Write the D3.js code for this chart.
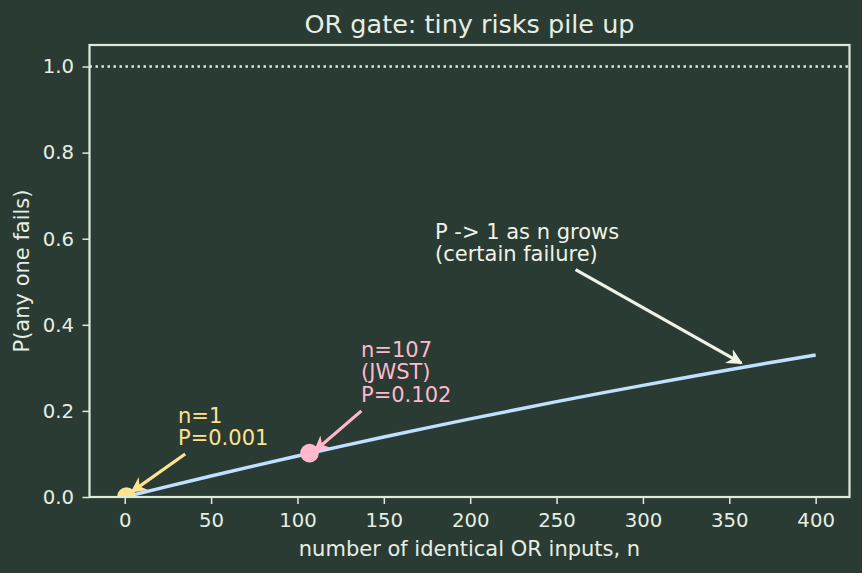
<!DOCTYPE html>
<html><head><meta charset="utf-8">
<script src="https://cdn.jsdelivr.net/npm/d3@7"></script>
<style>body{margin:0;background:#2a3b33;}svg{display:block;font-family:"DejaVu Sans",sans-serif;}</style>
</head><body><svg id="c" width="862" height="573"></svg>
<script>
const nValues = [0,25,50,75,100,125,150,175,200,225,250,275,300,325,350,375,400];
const pValues = [0,0.0247,0.0488,0.0723,0.0952,0.1176,0.1393,0.1606,0.1814,0.2016,0.2214,0.2406,0.2594,0.2777,0.2956,0.3130,0.3299];
const highlightN = [1,107];
const highlightP = [0.001,0.102];
const highlightLabels = [["n=1","P=0.001"],["n=107","(JWST)","P=0.102"]];
const xTicks = [0,50,100,150,200,250,300,350,400];
const yTicks = [0.0,0.2,0.4,0.6,0.8,1.0];

const bg="#2a3b33", fg="#e6eee4", lineCol="#bfe0ff", yel="#fde38f", pink="#ffb8cc", spine="#dfeadb";
const svg=d3.select("#c");
svg.append("rect").attr("width",862).attr("height",573).attr("fill",bg);
const L=89.5,R=849.5,T=45,B=497;
const x=d3.scaleLinear().domain([-20.4,419.6]).range([L,R]);
const y=d3.scaleLinear().domain([0,1.05]).range([B,T]);

const defs=svg.append("defs");
defs.append("clipPath").attr("id","clip").append("rect").attr("x",L).attr("y",T).attr("width",R-L).attr("height",B-T);
function marker(id,col){
  defs.append("marker").attr("id",id).attr("viewBox","0 -5 10 10").attr("refX",9).attr("refY",0)
   .attr("markerWidth",5).attr("markerHeight",5).attr("markerUnits","strokeWidth").attr("orient","auto")
   .append("path").attr("d","M0,-5L10,0L0,5L3,0Z").attr("fill",col);
}
marker("mY",yel);marker("mP",pink);marker("mW","#eef3e6");

const plot=svg.append("g").attr("clip-path","url(#clip)");
plot.append("line").attr("x1",L).attr("x2",R).attr("y1",y(1)).attr("y2",y(1))
  .attr("stroke",fg).attr("stroke-width",2.4).attr("stroke-dasharray","2.4,3.6");
plot.append("path").datum(nValues.map((n,i)=>[n,pValues[i]]))
  .attr("d",d3.line().x(d=>x(d[0])).y(d=>y(d[1])))
  .attr("fill","none").attr("stroke",lineCol).attr("stroke-width",3.4);
const cols=[yel,pink];
plot.selectAll("circle.h").data(highlightN).enter().append("circle")
  .attr("cx",(d)=>x(d)).attr("cy",(d,i)=>y(highlightP[i])).attr("r",9.3).attr("fill",(d,i)=>cols[i]);

const gx=svg.append("g").attr("transform",`translate(0,${B})`).call(d3.axisBottom(x).tickValues(xTicks).tickSize(7).tickFormat(d3.format("d")));
const gy=svg.append("g").attr("transform",`translate(${L},0)`).call(d3.axisLeft(y).tickValues(yTicks).tickSize(7).tickPadding(8.5).tickFormat(d3.format(".1f")));
[gx,gy].forEach(g=>{g.select(".domain").remove();g.selectAll("line").attr("stroke",spine).attr("stroke-width",1.5);
  g.selectAll("text").attr("fill",fg).attr("font-size",19.7).attr("font-family","DejaVu Sans");});
gx.selectAll("text").attr("y",30).attr("dy",0);
svg.append("rect").attr("x",L).attr("y",T).attr("width",R-L).attr("height",B-T).attr("fill","none").attr("stroke",spine).attr("stroke-width",2.2);

svg.append("text").attr("x",(L+R)/2).attr("y",33).attr("text-anchor","middle").attr("fill",fg).attr("font-size",25.5).text("OR gate: tiny risks pile up");
svg.append("text").attr("x",(L+R)/2).attr("y",556).attr("text-anchor","middle").attr("fill",fg).attr("font-size",21).text("number of identical OR inputs, n");
svg.append("text").attr("transform",`translate(28.5,${(T+B)/2}) rotate(-90)`).attr("text-anchor","middle").attr("fill",fg).attr("font-size",21).text("P(any one fails)");

function annot(lines,tx,ty,col,from,to,mk){
  const t=svg.append("text").attr("x",tx).attr("y",ty).attr("fill",col).attr("font-size",21);
  lines.forEach((s,i)=>t.append("tspan").attr("x",tx).attr("dy",i?22.8:0).text(s));
  svg.append("line").attr("x1",from[0]).attr("y1",from[1]).attr("x2",to[0]).attr("y2",to[1])
    .attr("stroke",col).attr("stroke-width",3.2).attr("marker-end",`url(#${mk})`);
}
annot(highlightLabels[0],178,422.5,yel,[x(35),y(0.1)],[x(4),y(0.012)],"mY");
annot(highlightLabels[1],361,356.5,pink,[x(137),y(0.2)],[x(110),y(0.107)],"mP");
annot(["P -> 1 as n grows","(certain failure)"],435,238.5,"#eef3e6",[x(261),y(0.528)],[x(357),y(0.311)],"mW");
</script></body></html>
